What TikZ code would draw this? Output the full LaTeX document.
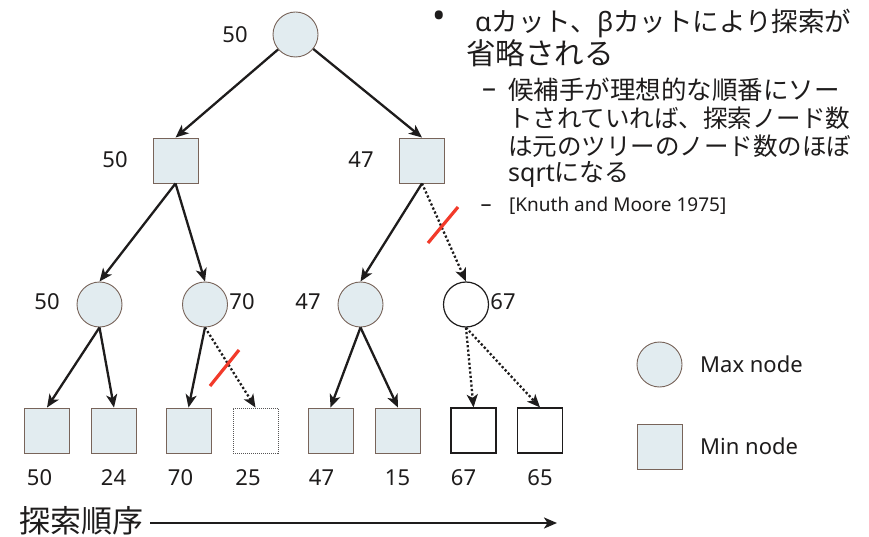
\documentclass[tikz,border=0pt]{standalone}
\usepackage{fontspec}
\setmainfont{Noto Sans}
\newfontfamily\jp{Noto Sans CJK JP}
\usetikzlibrary{arrows.meta}

\definecolor{nodefill}{RGB}{226,236,240}
\definecolor{nodeline}{RGB}{120,100,90}
\definecolor{ink}{RGB}{30,28,28}
\definecolor{cutred}{RGB}{242,58,42}

\tikzset{
  maxnode/.style={circle, draw=nodeline, fill=nodefill, line width=0.9pt,
                  minimum size=45pt, inner sep=0pt},
  minnode/.style={rectangle, draw=nodeline, fill=nodefill, line width=0.9pt,
                  minimum size=45pt, inner sep=0pt},
  openmax/.style={circle, draw=ink, fill=white, line width=1.2pt,
                  minimum size=45pt, inner sep=0pt},
  openmin/.style={rectangle, draw=ink, fill=white, line width=1.2pt,
                  minimum size=45pt, inner sep=0pt},
  ghostmin/.style={rectangle, draw=ink!75, fill=white, line width=0.9pt,
                   dash pattern=on 1pt off 1pt, minimum size=45pt, inner sep=0pt},
  val/.style={font=\fontsize{22}{26}\selectfont, text=ink, inner sep=0pt},
  link/.style={draw=ink, line width=2.3pt,
               -{Stealth[length=13pt,width=11pt,inset=3.5pt]}},
  prunedlink/.style={link, dash pattern=on 2.2pt off 2.2pt},
  cutmark/.style={draw=cutred, line width=3.2pt},
  bodytext/.style={anchor=west, inner sep=0pt, text=ink},
}

\begin{document}
\begin{tikzpicture}[x=1pt, y=-1pt]
\useasboundingbox[fill=white] (0,0) rectangle (869,537);

% ---- game tree ----
\node[maxnode] (root) at (295.5,34.5) {};

\node[minnode] (m1) at (175.5,160.5) {};
\node[minnode] (m2) at (422,160.5) {};

\node[maxnode] (x1) at (99.5,304.5) {};
\node[maxnode] (x2) at (205,304.5) {};
\node[maxnode] (x3) at (360.5,304.5) {};
\node[openmax] (x4) at (466,304.5) {};

\node[minnode]  (l1) at (47,430.5) {};
\node[minnode]  (l2) at (114,430.5) {};
\node[minnode]  (l3) at (188.5,430.5) {};
\node[ghostmin] (l4) at (255.5,430.5) {};
\node[minnode]  (l5) at (330.5,430.5) {};
\node[minnode]  (l6) at (398,430.5) {};
\node[openmin]  (l7) at (473.5,430.5) {};
\node[openmin]  (l8) at (540,430.5) {};

% values of the inner nodes
\node[val] (vroot) at (235,35) {50};
\node[val] (vm1) at (115,160) {50};
\node[val] (vm2) at (361,160) {47};
\node[val] (vx1) at (47,302) {50};
\node[val] (vx2) at (242,302) {70};
\node[val] (vx3) at (308,302) {47};
\node[val] (vx4) at (503,302) {67};

% values of the leaves
\node[val] (vl1) at (39.5,478) {50};
\node[val] (vl2) at (113.5,478) {24};
\node[val] (vl3) at (180.5,478) {70};
\node[val] (vl4) at (248,478) {25};
\node[val] (vl5) at (321.5,478) {47};
\node[val] (vl6) at (397.5,478) {15};
\node[val] (vl7) at (463.5,478) {67};
\node[val] (vl8) at (540,478) {65};

% connectors
\draw[link] (root) -- (m1.north);
\draw[link] (root) -- (m2.north);
\draw[link] (m1.south) -- (x1.north);
\draw[link] (m1.south) -- (x2.north);
\draw[link] (m2.south) -- (x3.north);
\draw[prunedlink] (m2.south) -- (x4.north);
\draw[link] (x1.south) -- (l1.north);
\draw[link] (x1.south) -- (l2.north);
\draw[link] (x2.south) -- (l3.north);
\draw[prunedlink] (x2.south) -- (l4.north);
\draw[link] (x3.south) -- (l5.north);
\draw[link] (x3.south) -- (l6.north);
\draw[prunedlink] (x4.south) -- (l7.north);
\draw[prunedlink] (x4.south) -- (l8.north);

% cuts
\draw[cutmark] (210,386) -- (239,350);
\draw[cutmark] (428,243) -- (458,207);

% ---- legend ----
\node[maxnode] (kmax) at (659.5,364.5) {};
\node[minnode] (kmin) at (659.5,446.5) {};
\node[bodytext, font=\fontsize{22}{26}\selectfont] (tmax) at (700,364) {Max node};
\node[bodytext, font=\fontsize{22}{26}\selectfont] (tmin) at (700,446) {Min node};

% ---- search order ----
\node[bodytext, font=\jp\fontsize{31}{33}\selectfont] (order) at (19,521) {探索順序};
\coordinate (axisstart) at (150,523);
\coordinate (axisend) at (557,523);
\draw[draw=ink, line width=2.2pt, -{Stealth[length=13pt,width=11pt,inset=3.5pt]}]
  (axisstart) -- (axisend);

% ---- notes ----
\node[text=ink, inner sep=0pt, font=\fontsize{36}{38}\selectfont] (dot) at (439,20) {•};
\node[bodytext, font=\fontsize{26.5}{30}\selectfont] (h1) at (475,23)
  {α{\jp カット、}β{\jp カットにより探索が}};
\node[bodytext, font=\jp\fontsize{29.5}{31}\selectfont] (h2) at (466,53) {省略される};

\node[text=ink, inner sep=0pt, font=\fontsize{28}{30}\selectfont] (d1) at (489,93) {–};
\node[bodytext, font=\jp\fontsize{25.5}{27}\selectfont] (s1) at (508,90) {候補手が理想的な順番にソー};
\node[bodytext, font=\jp\fontsize{24.5}{27}\selectfont] (s2) at (508,118) {トされていれば、探索ノード数};
\node[bodytext, font=\jp\fontsize{24.5}{27}\selectfont] (s3) at (508,146) {は元のツリーのノード数のほぼ};
\node[bodytext, font=\fontsize{25}{27}\selectfont] (s4) at (508,174) {sqrt{\jp になる}};

\node[text=ink, inner sep=0pt, font=\fontsize{22}{24}\selectfont] (d2) at (486,208) {–};
\node[bodytext, font=\fontsize{19}{22}\selectfont] (knuth) at (509,206) {[Knuth and Moore 1975]};
\end{tikzpicture}
\end{document}
